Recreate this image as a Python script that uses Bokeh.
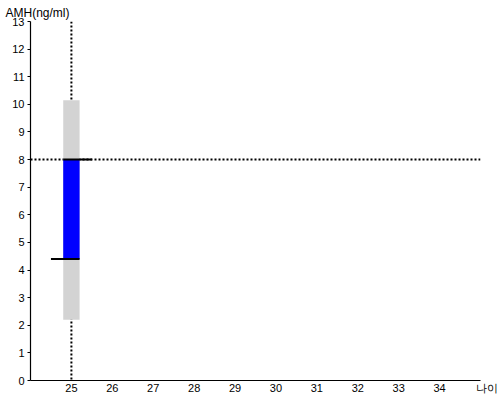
from bokeh.plotting import figure
from bokeh.models import Range1d, FixedTicker, Span, Title, ColumnDataSource
from bokeh.embed import file_html
from bokeh.resources import INLINE

# ---- data ----
ages = [25]
range_low = [2.2]
range_high = [10.15]
amh_low = [4.4]
amh_high = [8.0]
ref_age = 25
ref_amh = 8.0
x_ticks = [25, 26, 27, 28, 29, 30, 31, 32, 33, 34]
y_ticks = list(range(0, 14))
y_label = "AMH(ng/ml)"
x_label = "나이"
x_min, x_max = 24, 35
y_min, y_max = 0, 13

FONT = "Liberation Sans"
half = 0.2
ext = 0.5

p = figure(width=500, height=400, output_backend="svg", toolbar_location=None,
           x_range=Range1d(x_min, x_max), y_range=Range1d(y_min, y_max),
           min_border_left=30, min_border_right=20, min_border_top=21, min_border_bottom=20)
p.outline_line_color = None
p.xgrid.visible = False
p.ygrid.visible = False
p.background_fill_color = "white"
p.border_fill_color = "white"

src = ColumnDataSource(dict(
    x=ages, lo=range_low, hi=range_high, alo=amh_low, ahi=amh_high,
    l=[a - half for a in ages], r=[a + half for a in ages],
    l2=[a - ext for a in ages], r2=[a + ext for a in ages],
))

p.add_layout(Span(location=ref_amh, dimension="width", line_color="black",
                  line_width=2, line_dash="2 2", level="underlay"))
p.add_layout(Span(location=ref_age, dimension="height", line_color="black",
                  line_width=2, line_dash="2 2", level="underlay"))

p.vbar(x="x", width=2 * half, bottom="lo", top="hi", source=src,
       fill_color="#d3d3d3", line_color=None)
p.vbar(x="x", width=2 * half, bottom="alo", top="ahi", source=src,
       fill_color="#0000ff", line_color=None)

p.segment(x0="l", x1="r2", y0="ahi", y1="ahi", source=src, line_color="black", line_width=2)
p.segment(x0="l2", x1="r", y0="alo", y1="alo", source=src, line_color="black", line_width=2)

for ax in (p.xaxis[0], p.yaxis[0]):
    ax.axis_line_color = "black"
    ax.axis_line_width = 1.2
    ax.minor_tick_line_color = None
    ax.major_label_text_font = FONT
    ax.major_label_text_font_size = "11px"
    ax.major_label_text_color = "black"

# x axis: tick labels plus the axis name at the axis end
p.xaxis.ticker = FixedTicker(ticks=x_ticks + [x_max])
p.xaxis.major_label_overrides = {x_max: "\u00a0\u00a0\u00a0\u00a0" + x_label}
p.xaxis.major_tick_line_color = None
p.xaxis.major_tick_out = 0
p.xaxis.major_tick_in = 0
p.xaxis.major_label_standoff = 1

p.yaxis.ticker = FixedTicker(ticks=y_ticks)
p.yaxis.major_tick_out = 3
p.yaxis.major_tick_in = 0
p.yaxis.major_label_standoff = 3

p.add_layout(Title(text=y_label, align="left", offset=-25, standoff=4,
                   text_font=FONT, text_font_size="12px", text_font_style="normal",
                   text_color="black"), "above")

open("out.html", "w").write(file_html(p, INLINE))
